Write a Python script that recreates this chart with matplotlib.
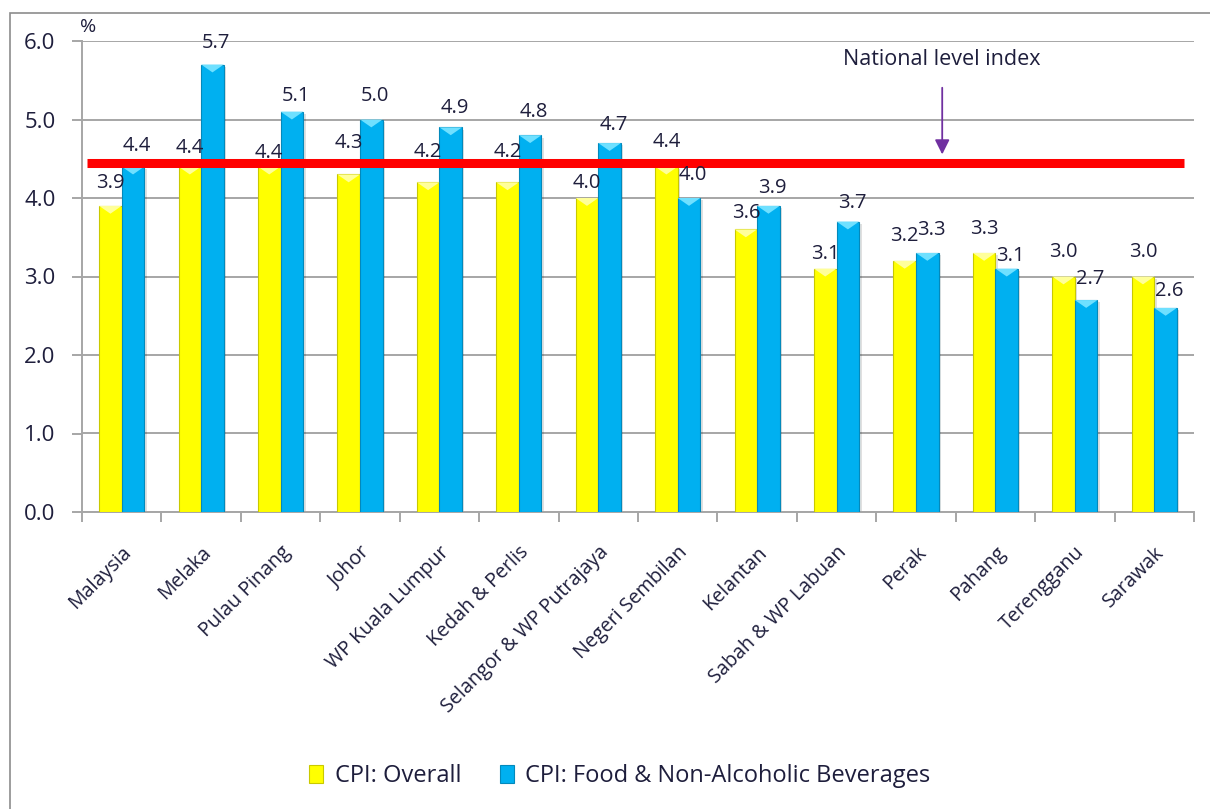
import numpy as np
import matplotlib.pyplot as plt
from matplotlib.patches import Rectangle

# data
states = ["Malaysia", "Melaka", "Pulau Pinang", "Johor", "WP Kuala Lumpur",
          "Kedah & Perlis", "Selangor & WP Putrajaya", "Negeri Sembilan",
          "Kelantan", "Sabah & WP Labuan", "Perak", "Pahang", "Terengganu", "Sarawak"]
cpi_overall = [3.9, 4.4, 4.4, 4.3, 4.2, 4.2, 4.0, 4.4, 3.6, 3.1, 3.2, 3.3, 3.0, 3.0]
cpi_food = [4.4, 5.7, 5.1, 5.0, 4.9, 4.8, 4.7, 4.0, 3.9, 3.7, 3.3, 3.1, 2.7, 2.6]
national_level = 4.45

# label heights (centre of text), moved by hand in the original
overall_label_y = [4.19, 4.64, 4.57, 4.70, 4.59, 4.59, 4.19, 4.71, 3.81, 3.29, 3.52, 3.61, 3.31, 3.31]
food_label_y = [4.66, 5.97, 5.30, 5.30, 5.15, 5.10, 4.93, 4.29, 4.13, 3.93, 3.59, 3.26, 2.97, 2.82]

plt.rcParams['font.family'] = ['Open Sans', 'DejaVu Sans']
txt = '#1e1e3c'
yellow = '#FFFF00'
blue = '#00B0F0'

fig = plt.figure(figsize=(12.1, 8.09), dpi=100)
ax = fig.add_axes([82/1210, 1-512/809, (1194-82)/1210, (512-41)/809])

# outer chart frame
fig.patches.append(Rectangle((10/1210, -0.05), 1.2, 1-13/809+0.05, transform=fig.transFigure,
                             fill=False, edgecolor='#8c8c8c', lw=1.2))

x = np.arange(len(states))
w = 0.285
b1 = ax.bar(x - w/2, cpi_overall, w, color=yellow, edgecolor='#c9c900', lw=0.8, zorder=3,
            label='CPI: Overall')
b2 = ax.bar(x + w/2, cpi_food, w, color=blue, edgecolor='#0389bb', lw=0.8, zorder=3,
            label='CPI: Food & Non-Alcoholic Beverages')

# bevel look: light chevron on bar tops + soft shadow
for bars, cap in ((b1, '#ffff9a'), (b2, '#6fe0ff')):
    for r in bars:
        x0, x1, h = r.get_x(), r.get_x() + r.get_width(), r.get_height()
        ax.fill([x0, x1, (x0 + x1)/2], [h, h, h - 0.1], color=cap, zorder=4, lw=0)
        ax.add_patch(Rectangle((x0 + 0.03, 0), r.get_width(), h - 0.03, color='#000000',
                               alpha=0.12, zorder=2, lw=0))

for i in range(len(states)):
    ax.text(x[i] - w/2, overall_label_y[i], f"{cpi_overall[i]:.1f}", ha='center', va='center',
            fontsize=14.5, color=txt, zorder=6)
    ax.text(x[i] + w/2 + 0.05, food_label_y[i], f"{cpi_food[i]:.1f}", ha='center', va='center',
            fontsize=14.5, color=txt, zorder=6)

# national level line + arrow
ax.plot([-0.44, 13.38], [national_level, national_level], color='#ff0000', lw=6.5, zorder=5,
        solid_capstyle='butt')
ax.annotate('', xy=(10.33, 4.52), xytext=(10.33, 5.44),
            arrowprops=dict(arrowstyle='-|>', color='#7030a0', lw=1.3, mutation_scale=22), zorder=6)
ax.text(10.33, 5.77, 'National level index', ha='center', va='center', fontsize=15.5, color=txt)

ax.set_xlim(-0.5, len(states) - 0.5)
ax.set_ylim(0, 6)
ax.set_yticks(np.arange(0, 6.01, 1.0))
ax.set_yticklabels([f"{v:.1f}" for v in np.arange(0, 6.01, 1.0)], fontsize=16, color=txt)
ax.yaxis.grid(True, color='#a6a6a6', lw=1.4, zorder=0)
ax.set_axisbelow(True)

ax.set_xticks(x)
ax.set_xticklabels(states, rotation=45, ha='right', rotation_mode='anchor', fontsize=14.2, color=txt)
ax.set_xticks(np.arange(-0.5, len(states)), minor=True)
ax.tick_params(axis='x', which='major', length=0, pad=22)
ax.tick_params(axis='x', which='minor', length=7, color='#a6a6a6', width=1.4)
ax.tick_params(axis='y', length=7, color='#a6a6a6', width=1.4, pad=12)

for s in ('top', 'right'):
    ax.spines[s].set_visible(False)
for s in ('left', 'bottom'):
    ax.spines[s].set_color('#a6a6a6')
    ax.spines[s].set_linewidth(1.4)

fig.text(80/1210, 1-27/809, '%', fontsize=14, color=txt, ha='left', va='center')

fig.legend(handles=[b1, b2], loc='center', bbox_to_anchor=(620/1210, 1-776/809), ncol=2,
           frameon=False, fontsize=17, handlelength=0.6, handleheight=0.8, handletextpad=0.5,
           columnspacing=1.6, labelcolor=txt)

fig.savefig('out.png', dpi=100)
